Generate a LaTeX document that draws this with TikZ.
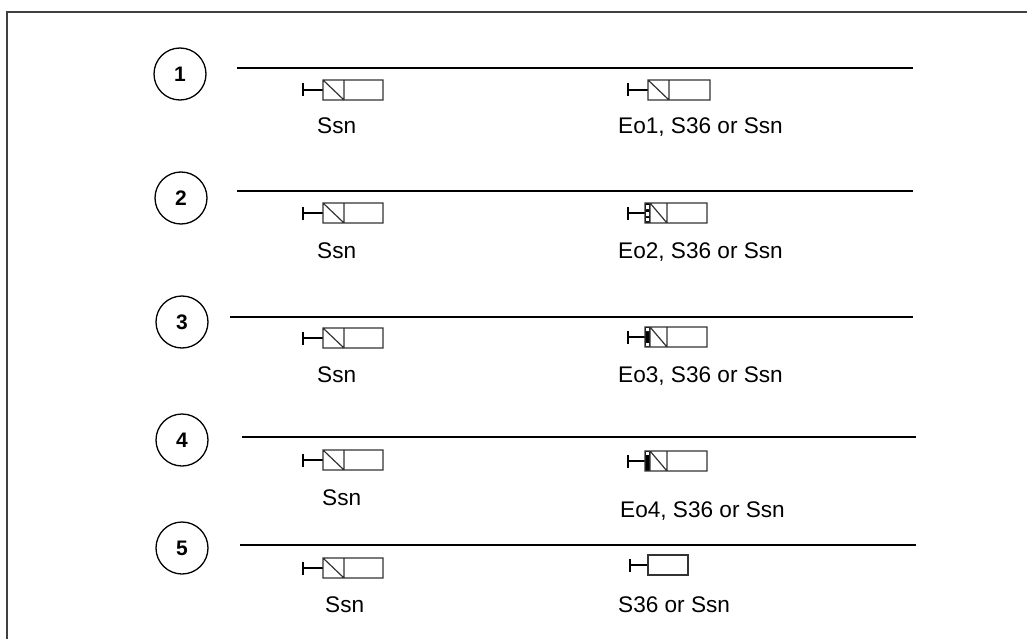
\documentclass[tikz,border=0pt]{standalone}
\usepackage{fontspec}
\setmainfont{Liberation Sans}
\begin{document}
\begin{tikzpicture}[x=1pt,y=-1pt,
  rowline/.style={line width=2.2pt},
  frame/.style={line width=1.3pt, draw=black!75},
  num/.style={circle, draw, line width=1.3pt, minimum size=52pt, inner sep=0pt, font=\fontsize{21}{24}\selectfont\bfseries},
  lbl/.style={anchor=base west, inner sep=0pt, font=\fontsize{22.6}{26}\selectfont},
  tee/.style={line width=2.2pt},
  boxl/.style={line width=1.2pt, draw=black!80}]
\useasboundingbox (0,0) rectangle (1027,639);
\newcommand\valveL[2]{%
  \draw[tee] (#1,#2-6.5) -- (#1,#2+6.5) (#1,#2) -- (#1+20,#2);
  \draw[boxl] (#1+20,#2-10) rectangle (#1+80,#2+10) (#1+41,#2-10) -- (#1+41,#2+10) (#1+20,#2-10) -- (#1+41,#2+10);}
\newcommand\valveE[3]{%
  \draw[tee] (#1,#2-6.5) -- (#1,#2+6.5) (#1,#2) -- (#1+17,#2);
  \fill[black] (#1+17,#2-10) rectangle (#1+22,#2+10);
  \ifcase#3\or\or
    \fill[white] (#1+18,#2-8) rectangle (#1+21,#2-4) (#1+18,#2-1) rectangle (#1+21,#2+3) (#1+18,#2+5) rectangle (#1+21,#2+8);
  \or
    \fill[white] (#1+18,#2-9) rectangle (#1+21,#2-6) (#1+18,#2+6) rectangle (#1+21,#2+9);
  \or
    \fill[white] (#1+18,#2-9) rectangle (#1+21,#2-6);
  \fi
  \draw[boxl] (#1+17,#2-10) rectangle (#1+79,#2+10) (#1+22,#2-10) -- (#1+22,#2+10) (#1+39,#2-10) -- (#1+39,#2+10) (#1+22,#2-10) -- (#1+39,#2+10);}
% frame
\draw[frame] (7,639) -- (7,12) -- (1027,12);
% circles
\node[num] (n1) at (180,74) {1};
\node[num] (n2) at (181,198) {2};
\node[num] (n3) at (182,322) {3};
\node[num] (n4) at (182,440) {4};
\node[num] (n5) at (182,548) {5};
% row lines
\coordinate (a1) at (237,68);  \coordinate (b1) at (913,68);
\coordinate (a2) at (237,191); \coordinate (b2) at (913,191);
\coordinate (a3) at (230,317); \coordinate (b3) at (913,317);
\coordinate (a4) at (242,437); \coordinate (b4) at (916,437);
\coordinate (a5) at (240,545); \coordinate (b5) at (916,545);
\foreach \i in {1,...,5} \draw[rowline] (a\i) -- (b\i);
% symbols
\valveL{303}{90}
\valveL{303}{213}
\valveL{303}{338}
\valveL{303}{460}
\valveL{303}{568}
\draw[tee] (628,83.5) -- (628,96.5) (628,90) -- (648,90);
\draw[boxl] (648,80) rectangle (710,100) (669,80) -- (669,100) (648,80) -- (669,100);
\valveE{628}{213}{2}
\valveE{628}{337}{3}
\valveE{628}{461}{4}
\draw[tee] (630,558.5) -- (630,571.5) (630,565) -- (648,565);
\draw[boxl] (648,555) rectangle (688,575);
% labels
\node[lbl] (l1) at (317,134) {Ssn};
\node[lbl] (r1) at (618,134) {Eo1, S36 or Ssn};
\node[lbl] (l2) at (317,258) {Ssn};
\node[lbl] (r2) at (618,258) {Eo2, S36 or Ssn};
\node[lbl] (l3) at (317,382) {Ssn};
\node[lbl] (r3) at (618,382) {Eo3, S36 or Ssn};
\node[lbl] (l4) at (322,505) {Ssn};
\node[lbl] (r4) at (620,517) {Eo4, S36 or Ssn};
\node[lbl] (l5) at (325,612) {Ssn};
\node[lbl] (r5) at (618,612) {S36 or Ssn};
\end{tikzpicture}
\end{document}
